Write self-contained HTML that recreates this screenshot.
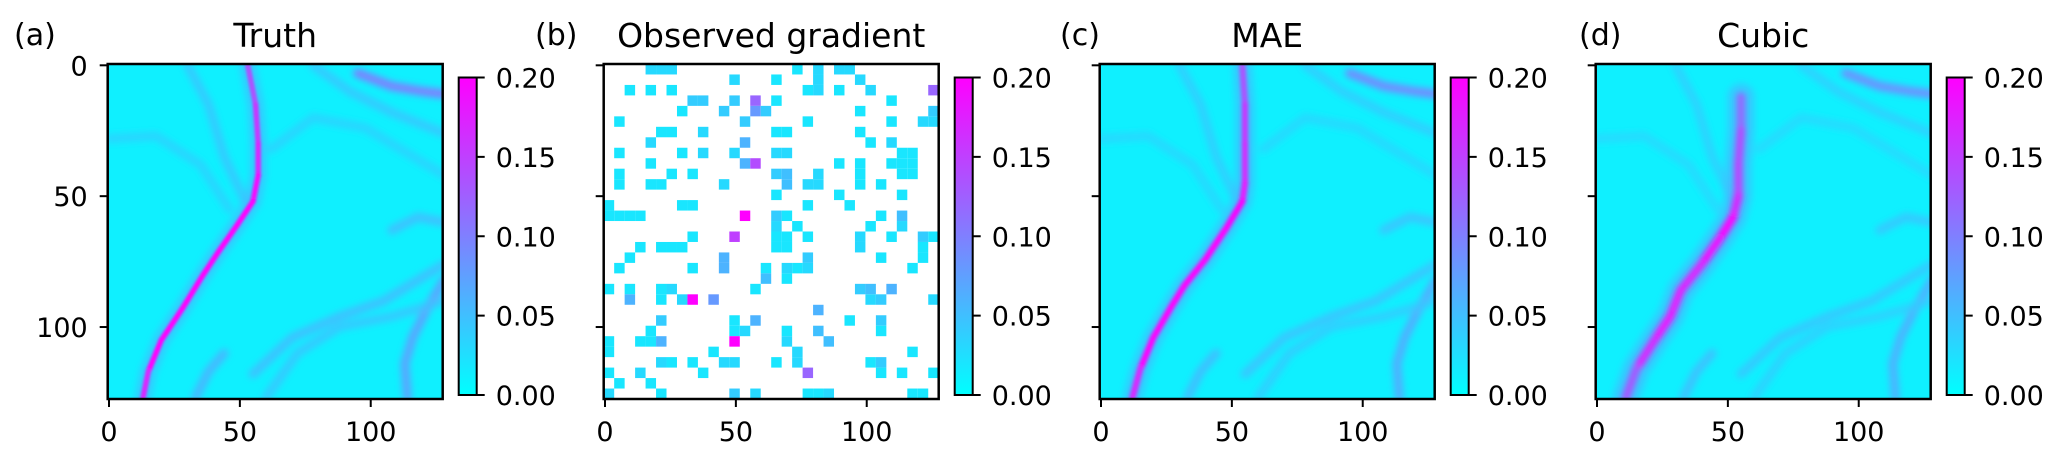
<!DOCTYPE html>
<html><head><meta charset="utf-8">
<style>
html,body{margin:0;padding:0;background:#fff;}
svg{display:block;font-family:"DejaVu Sans","Liberation Sans",sans-serif;}
</style></head>
<body>
<svg id="fig" width="2067" height="460" viewBox="0 0 2067 460" xmlns="http://www.w3.org/2000/svg">
<defs>
<linearGradient id="cbgrad" x1="0" y1="1" x2="0" y2="0">
<stop offset="0" stop-color="#00ffff"/><stop offset="1" stop-color="#ff00ff"/>
</linearGradient>
<filter id="blur1" x="-10%" y="-10%" width="120%" height="120%"><feGaussianBlur stdDeviation="1.4"/></filter>
<filter id="blur2" x="-10%" y="-10%" width="120%" height="120%"><feGaussianBlur stdDeviation="1.8"/></filter>
<filter id="blur3" x="-10%" y="-10%" width="120%" height="120%"><feGaussianBlur stdDeviation="2.8"/></filter>
<filter id="blurS" x="-10%" y="-10%" width="120%" height="120%"><feGaussianBlur stdDeviation="3.5"/></filter>
</defs>
</svg>
<script>
// ---- data ----
const panelTitles = ["Truth", "Observed gradient", "MAE", "Cubic"];
const panelLetters = ["(a)", "(b)", "(c)", "(d)"];
const xTicks = [0, 50, 100];
const yTicks = [0, 50, 100];
const cbTicks = [0.00, 0.05, 0.10, 0.15, 0.20];
const cbTickLabels = ["0.00", "0.05", "0.10", "0.15", "0.20"];
const vmin = 0, vmax = 0.2;
const backgroundValue = 0.012;
// main front (x, y) in data units
const frontA = [[53,0],[56,15],[57,30],[57,42],[55,52],[49,61],[42,71],[36,80],[28,93],[20,105],[15,117],[13,127]];
const frontC = [[54,0],[55,15],[55,30],[55,45],[54,52],[48,62],[40,74],[32,84],[27,92],[20,104],[15,116],[12,127]];
const frontD = [[55,12],[55,25],[54,38],[54,50],[52,58],[47,66],[40,76],[32,86],[28,96],[22,105],[15,116],[11,127]];
const frontValsA = [0.12,0.15,0.16,0.18,0.2,0.2,0.2,0.2,0.2,0.2,0.2,0.14];
const frontValsC = [0.12,0.15,0.16,0.17,0.19,0.2,0.2,0.2,0.2,0.2,0.2,0.14];
const frontValsD = [0.1,0.13,0.15,0.14,0.2,0.2,0.18,0.17,0.19,0.18,0.16,0.1];
// secondary streaks: points and value
const streakPts = [
 [[95,3],[108,8],[120,10],[128,11]],
 [[78,0],[92,10],[108,18],[128,26]],
 [[128,82],[121,94],[116,104],[113,114],[114,127]],
 [[55,118],[70,104],[88,96],[105,90],[128,76]],
 [[30,0],[38,15],[44,35],[52,52]],
 [[0,28],[18,27],[35,38],[46,55]],
 [[62,32],[78,20],[98,24],[128,42]],
 [[33,127],[38,117],[44,110]],
 [[60,127],[72,110],[88,100],[108,96],[128,90]],
 [[108,63],[118,58],[128,60]]
];
const streakVals = [0.13,0.05,0.09,0.06,0.05,0.04,0.04,0.07,0.05,0.06];
// observed cells (row, col, value) on 32x32 grid, 4 px each
const obsRows = [0,0,0,0,0,0,0,1,1,1,1,2,2,2,2,2,2,2,2,3,3,3,3,3,3,4,4,4,4,4,4,5,5,5,5,5,5,6,6,6,6,6,6,7,7,7,7,8,8,8,8,8,8,8,8,9,9,9,9,9,9,9,9,10,10,10,10,10,10,10,10,10,11,11,11,11,11,11,11,11,11,12,12,12,13,13,13,13,13,14,14,14,14,14,14,14,14,14,15,15,15,15,16,16,16,16,16,16,16,16,16,17,17,17,17,17,17,17,17,18,18,18,18,18,19,19,19,19,19,19,19,19,20,20,21,21,21,21,21,21,21,21,22,22,22,22,22,22,22,22,23,24,24,24,24,24,25,25,25,25,25,25,26,26,26,26,26,26,26,27,27,27,27,28,28,28,28,28,28,28,28,28,29,29,29,29,29,29,29,30,30,31,31,31,31,31,31,31,31,31];
const obsCols = [4,5,6,18,20,22,23,12,16,20,24,2,4,6,19,20,22,25,31,8,9,12,14,16,27,7,11,14,15,24,31,1,13,19,27,30,31,5,6,9,16,17,24,4,13,25,27,1,7,9,12,16,17,28,29,4,13,14,22,24,27,28,29,1,6,8,16,17,20,24,29,28,1,4,5,11,17,19,20,24,26,16,22,28,0,7,8,19,23,0,1,2,3,13,16,17,26,28,16,18,25,28,8,12,16,17,19,24,27,30,31,3,5,6,7,16,17,24,30,2,11,19,26,30,1,8,11,15,17,18,19,29,15,17,0,2,5,6,14,24,25,27,2,5,7,8,10,25,26,31,20,5,12,14,23,26,4,12,13,17,20,26,0,3,4,5,12,17,21,0,10,18,29,5,6,8,11,12,16,18,25,26,0,3,9,19,26,28,31,1,4,0,5,12,14,19,20,21,29,30];
const obsVals = [0.03,0.03,0.03,0.02,0.03,0.03,0.03,0.03,0.02,0.03,0.03,0.02,0.02,0.02,0.02,0.03,0.02,0.03,0.12,0.04,0.04,0.04,0.12,0.02,0.02,0.02,0.04,0.08,0.04,0.02,0.04,0.02,0.04,0.02,0.02,0.03,0.03,0.02,0.02,0.03,0.02,0.02,0.02,0.03,0.06,0.02,0.03,0.02,0.02,0.03,0.03,0.03,0.03,0.02,0.02,0.02,0.06,0.14,0.02,0.02,0.02,0.02,0.02,0.02,0.02,0.02,0.04,0.05,0.03,0.02,0.02,0.02,0.02,0.02,0.02,0.03,0.05,0.03,0.03,0.02,0.02,0.02,0.02,0.02,0.02,0.02,0.02,0.02,0.02,0.02,0.02,0.02,0.02,0.2,0.04,0.02,0.02,0.05,0.03,0.02,0.02,0.03,0.02,0.15,0.02,0.02,0.02,0.03,0.02,0.04,0.02,0.02,0.02,0.02,0.02,0.02,0.02,0.03,0.02,0.02,0.06,0.04,0.02,0.02,0.02,0.02,0.06,0.02,0.03,0.02,0.03,0.02,0.05,0.02,0.02,0.02,0.02,0.03,0.02,0.04,0.05,0.06,0.06,0.02,0.03,0.2,0.08,0.03,0.04,0.03,0.06,0.04,0.02,0.06,0.02,0.04,0.02,0.02,0.03,0.02,0.05,0.02,0.02,0.02,0.02,0.06,0.2,0.03,0.05,0.02,0.02,0.03,0.02,0.03,0.02,0.02,0.03,0.03,0.02,0.03,0.02,0.04,0.02,0.03,0.02,0.12,0.02,0.02,0.02,0.02,0.02,0.03,0.02,0.04,0.03,0.02,0.02,0.03,0.02,0.02,0.02];

// ---- layout ----
const NS = "http://www.w3.org/2000/svg";
const svg = document.getElementById("fig");
const lefts = [107.7, 603.7, 1099.7, 1595.7];
const top0 = 64, size = 335, N = 128;
const letterX = [14, 535, 1060, 1579];

function el(tag, attrs, parent) {
  const e = document.createElementNS(NS, tag);
  for (const k in attrs) e.setAttribute(k, attrs[k]);
  (parent || svg).appendChild(e);
  return e;
}
function cool(v) {
  let t = Math.max(0, Math.min(1, (v - vmin) / (vmax - vmin)));
  return `rgb(${Math.round(255*t)},${Math.round(255*(1-t))},255)`;
}
function xs(p, u) { return lefts[p] + (u + 0.5) * size / N; }
function ys(u) { return top0 + (u + 0.5) * size / N; }
function cbY(v) { return 395 - (v - vmin) / (vmax - vmin) * (395 - 77.5); }
function pathFrom(p, pts) {
  return pts.map((q, i) => (i ? "L" : "M") + xs(p, q[0]).toFixed(1) + " " + ys(q[1]).toFixed(1)).join(" ");
}

function drawField(p, front, frontVals, blurId, streakScale, frontW) {
  const g = el("g", {});
  
  
  const clipId = "clip" + p;
  const cp = el("clipPath", {id: clipId}, g);
  el("rect", {x: lefts[p], y: top0, width: size, height: size}, cp);
  const inner = el("g", {"clip-path": `url(#${clipId})`}, g);
  const bg = el("rect", {x: lefts[p], y: top0, width: size, height: size, fill: cool(backgroundValue)}, inner);
  
  
  const sg = el("g", {filter: "url(#blurS)"}, inner);
  streakPts.forEach((pts, i) => {
    const s = el("path", {d: pathFrom(p, pts), fill: "none", stroke: cool(streakVals[i] * streakScale), "stroke-width": 9, "stroke-linecap": "round", "stroke-linejoin": "round", opacity: 0.75}, sg);
    
    
  });
  const halo = el("path", {d: pathFrom(p, front), fill: "none", stroke: cool(0.06), "stroke-width": frontW * 3, "stroke-linecap": "round", "stroke-linejoin": "round", opacity: 0.6}, sg);
  
  
  const fg = el("g", {filter: `url(#${blurId})`}, inner);
  for (let i = 0; i < front.length - 1; i++) {
    const seg = el("line", {x1: xs(p, front[i][0]), y1: ys(front[i][1]), x2: xs(p, front[i+1][0]), y2: ys(front[i+1][1]), stroke: cool((frontVals[i] + frontVals[i+1]) / 2), "stroke-width": frontW, "stroke-linecap": "round"}, fg);
    
    
  }
}

function drawObserved(p) {
  const g = el("g", {});
  
  
  const cell = size / 32;
  for (let i = 0; i < obsRows.length; i++) {
    const r = el("rect", {x: lefts[p] + obsCols[i] * cell, y: top0 + obsRows[i] * cell, width: cell, height: cell, fill: cool(obsVals[i])}, g);
    
    
  }
}

for (let p = 0; p < 4; p++) {
  if (p === 0) drawField(0, frontA, frontValsA, "blur1", 1, 5.5);
  if (p === 1) drawObserved(1);
  if (p === 2) drawField(2, frontC, frontValsC, "blur2", 0.9, 6.5);
  if (p === 3) drawField(3, frontD, frontValsD, "blur3", 0.85, 9);
  const L = lefts[p];
  const fr = el("rect", {x: L, y: top0, width: size, height: size, fill: "none", stroke: "#000", "stroke-width": 2.5});
  
  
  const t = el("text", {x: L + size / 2, y: 47, "font-size": 33, "text-anchor": "middle", fill: "#000"});
  t.textContent = panelTitles[p];
  
  
  const lt = el("text", {x: letterX[p], y: 45, "font-size": 30, fill: "#000"});
  lt.textContent = panelLetters[p];
  
  
  xTicks.forEach(v => {
    const x = xs(p, v);
    const tk = el("line", {x1: x, y1: top0 + size, x2: x, y2: top0 + size + 8, stroke: "#000", "stroke-width": 2});
    
    
    const tl = el("text", {x: x, y: 441, "font-size": 27, "text-anchor": "middle", fill: "#000"});
    tl.textContent = v;
    
    
  });
  yTicks.forEach(v => {
    const y = ys(v);
    const tk = el("line", {x1: L - 8, y1: y, x2: L, y2: y, stroke: "#000", "stroke-width": 2});
    
    
    if (p === 0) {
      const tl = el("text", {x: L - 20, y: y + 10, "font-size": 27, "text-anchor": "end", fill: "#000"});
      tl.textContent = v;
      
      
    }
  });
  const cx = L + 351;
  const cb = el("rect", {x: cx, y: 77.5, width: 18, height: 395 - 77.5, fill: "url(#cbgrad)", stroke: "#000", "stroke-width": 2});
  
  
  cbTicks.forEach((v, i) => {
    const y = cbY(v);
    const tk = el("line", {x1: cx + 18, y1: y, x2: cx + 26, y2: y, stroke: "#000", "stroke-width": 2});
    
    
    const tl = el("text", {x: cx + 37, y: y + 10, "font-size": 27, fill: "#000"});
    tl.textContent = cbTickLabels[i];
    
    
  });
}
</script>
</body></html>
